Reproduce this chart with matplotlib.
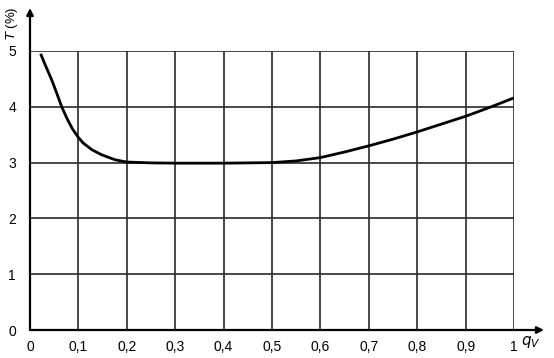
import matplotlib.pyplot as plt

# values
qv = [0.022, 0.03, 0.045, 0.055, 0.0655, 0.077, 0.088, 0.1, 0.11, 0.128, 0.148,
      0.176, 0.2, 0.25, 0.3, 0.35, 0.4, 0.45, 0.5, 0.55, 0.6, 0.65, 0.7, 0.75,
      0.8, 0.85, 0.9, 0.95, 1.0]
T = [4.95, 4.78, 4.48, 4.25, 4.0, 3.78, 3.60, 3.45, 3.35, 3.23, 3.14,
     3.05, 3.01, 2.995, 2.99, 2.99, 2.99, 2.995, 3.0, 3.03, 3.09, 3.19, 3.30, 3.42,
     3.55, 3.69, 3.83, 3.99, 4.16]

xticks = [0, 0.1, 0.2, 0.3, 0.4, 0.5, 0.6, 0.7, 0.8, 0.9, 1.0]
xlabels = ['0', '0,1', '0,2', '0,3', '0,4', '0,5', '0,6', '0,7', '0,8', '0,9', '1']
yticks = [0, 1, 2, 3, 4, 5]
ylabels = ['0', '1', '2', '3', '4', '5']

plt.rcParams['font.family'] = ['Liberation Sans', 'DejaVu Sans']

W, H = 554, 358
fig = plt.figure(figsize=(W / 100, H / 100), dpi=100)
x0, x1 = 30, 514
y0, y1 = 330, 51
ax = fig.add_axes([x0 / W, (H - y0) / H, (x1 - x0) / W, (y0 - y1) / H])
ax.set_xlim(0, 1)
ax.set_ylim(0, 5)

for s in ['top', 'right', 'left', 'bottom']:
    ax.spines[s].set_visible(False)

# grid
for xv in xticks[1:]:
    ax.plot([xv, xv], [0, 5], color='#2a2a2a', lw=1.2, zorder=1)
for yv in yticks[1:]:
    ax.plot([0, 1], [yv, yv], color='#2a2a2a', lw=1.2, zorder=1)

# axes with arrows
ax.annotate('', xy=((544 - x0) / (x1 - x0), 0), xytext=(0, 0),
            xycoords=('axes fraction', 'data'), textcoords=('axes fraction', 'data'),
            arrowprops=dict(arrowstyle='-|>', color='black', lw=1.6,
                            mutation_scale=10, shrinkA=0, shrinkB=0),
            annotation_clip=False)
ax.annotate('', xy=(0, (y0 - 8) / (y0 - y1)), xytext=(0, 0),
            xycoords=('data', 'axes fraction'), textcoords=('data', 'axes fraction'),
            arrowprops=dict(arrowstyle='-|>', color='black', lw=1.6,
                            mutation_scale=10, shrinkA=0, shrinkB=0),
            annotation_clip=False)

ax.plot(qv, T, color='black', lw=2.0, zorder=3, solid_capstyle='butt')

ax.set_xticks(xticks)
ax.set_xticklabels(xlabels, fontsize=10)
ax.set_yticks(yticks)
ax.set_yticklabels(ylabels, fontsize=10)
ax.tick_params(length=0, pad=7)
ax.tick_params(axis='y', pad=10)

fig.text(12 / W, 1 - 23 / H, r'$T$ (%)', rotation=90, fontsize=9.5,
         ha='center', va='center')
fig.text(531 / W, 1 - 342 / H, r'$q_V$', fontsize=11, ha='center', va='center')

fig.savefig('out.png', dpi=100)
